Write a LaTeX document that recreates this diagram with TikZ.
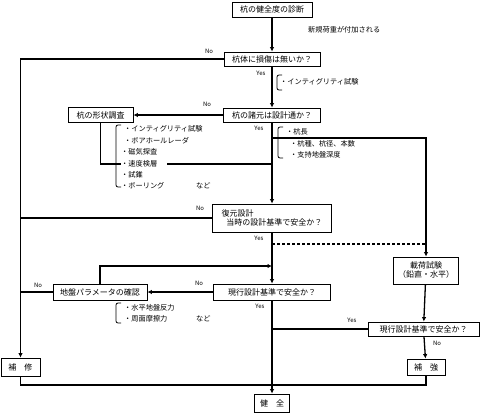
\documentclass[tikz,border=0pt]{standalone}
\usepackage{fontspec}
\setmainfont{Noto Sans CJK JP}
\usetikzlibrary{arrows.meta}
\begin{document}
\begin{tikzpicture}[x=1pt,y=-1pt,
 box/.style={draw,line width=0.8pt,inner sep=0pt,font=\fontsize{8}{10}\selectfont,fill=white},
 conn/.style={line width=1.3pt},
 arr/.style={conn,-{Latex[length=4.5pt,width=4.5pt]}},
 lab/.style={font=\fontsize{6}{7}\selectfont,inner sep=0pt},
 item/.style={font=\fontsize{7.2}{8}\selectfont,inner sep=0pt,anchor=west},
 brk/.style={line width=0.8pt,rounded corners=2pt}]
\useasboundingbox (0,0) rectangle (490,413);

% boxes
\node[box,minimum width=80pt,minimum height=15pt] (top) at (272,9.5) {杭の健全度の診断};
\node[box,minimum width=96pt,minimum height=14pt] (q1) at (272,59) {杭体に損傷は無いか？};
\node[box,minimum width=97pt,minimum height=14pt] (q2) at (272,115) {杭の諸元は設計通か？};
\node[box,minimum width=65pt,minimum height=15pt] (shape) at (100.5,115) {杭の形状調査};
\node[box,minimum width=119pt,minimum height=28pt,align=left] (q3) at (272,218) {復元設計\\[-1pt]\hspace{0.6em}当時の設計基準で安全か？};
\node[box,minimum width=117pt,minimum height=16pt] (q4) at (272,292) {現行設計基準で安全か？};
\node[box,minimum width=94pt,minimum height=16pt] (param) at (100,292) {地盤パラメータの確認};
\node[box,minimum width=65pt,minimum height=27pt,align=center] (load) at (426,270.5) {載荷試験\\[-1pt]（鉛直・水平）};
\node[box,minimum width=111pt,minimum height=14pt] (q5) at (423.5,329) {現行設計基準で安全か？};
\node[box,minimum width=39pt,minimum height=18pt] (hosyu) at (20.5,367) {補\hspace{1em}修};
\node[box,minimum width=38pt,minimum height=16pt] (hokyo) at (426,367) {補\hspace{1em}強};
\node[box,minimum width=35pt,minimum height=18pt] (kenzen) at (272,403) {健\hspace{1em}全};

% junction coordinates on the main line
\coordinate (j1) at (272,164);
\coordinate (j2) at (272,266);
\coordinate (j3) at (272,138);
\coordinate (j4) at (272,244);
\coordinate (j5) at (272,329);
\coordinate (j6) at (272,385);

% note
\node[item] (note) at (308,30) {新規荷重が付加される};

% lists
\draw[brk] (282,75) -- (277,75) -- (277,90) -- (282,90);
\node[item] (l1) at (280,82) {・インティグリティ試験};

\draw[brk] (121,125) -- (116,125) -- (116,187) -- (121,187);
\node[item] (a1) at (124,129) {・インティグリティ試験};
\node[item] (a2) at (124,141) {・ボアホールレーダ};
\node[item] (a3) at (121,152) {・磁気探査};
\node[item] (a4) at (121,164) {・速度検層};
\node[item] (a5) at (121,175) {・試錐};
\node[item] (a6) at (121,186) {・ボーリング};
\node[item] (a7) at (196,186) {など};

\draw[brk] (283,127) -- (278,127) -- (278,158) -- (283,158);
\node[item] (b1) at (286,132) {・杭長};
\node[item] (b2) at (290,144) {・杭種、杭径、本数};
\node[item] (b3) at (290,155) {・支持地盤深度};

\draw[brk] (121,303) -- (116,303) -- (116,323) -- (121,323);
\node[item] (c1) at (124,308) {・水平地盤反力};
\node[item] (c2) at (124,319) {・周面摩擦力};
\node[item] (c3) at (196,319) {など};

% labels
\node[lab] at (209,51) {No};
\node[lab] at (261,73) {Yes};
\node[lab] at (207,104) {No};
\node[lab] at (259,128) {Yes};
\node[lab] at (200,208) {No};
\node[lab] at (259,238) {Yes};
\node[lab] at (199,283) {No};
\node[lab] at (38,285) {No};
\node[lab] at (260,306) {Yes};
\node[lab] at (352,320) {Yes};
\node[lab] at (437,343) {No};

% main line
\draw[arr] (top) -- (q1);
\draw[arr] (q1) -- (q2);
\draw[arr] (q2) -- (q3);
\draw[arr] (q3) -- (q4);
\draw[arr] (q4) -- (kenzen);

% left branches
\draw[arr] (q1.west) -| (hosyu.north);
\draw[conn] (q3.west) -- (q3.west -| hosyu.north);
\draw[conn] (param.west) -- (param.west -| hosyu.north);
\draw[arr] (q2.west) -- (shape.east);
\draw[conn] (shape.south) |- (a4.west);
\draw[conn,shorten <=10pt] (a4.east) -- (j1);
\draw[arr] (q4.west) -- (param.east);
\draw[arr] (param.north) |- (j2);

% right branches
\draw[arr] (j3) -| (load.north);
\draw[conn,dash pattern=on 3pt off 2pt] (j4) -- (j4 -| load.north);
\draw[arr] (load) -- (q5);
\draw[conn] (q5.west) -- (j5);
\draw[arr] (q5) -- (hokyo);

% bottom
\draw[conn] (hosyu.south) |- (j6);
\draw[conn] (hokyo.south) |- (j6);
\end{tikzpicture}
\end{document}
